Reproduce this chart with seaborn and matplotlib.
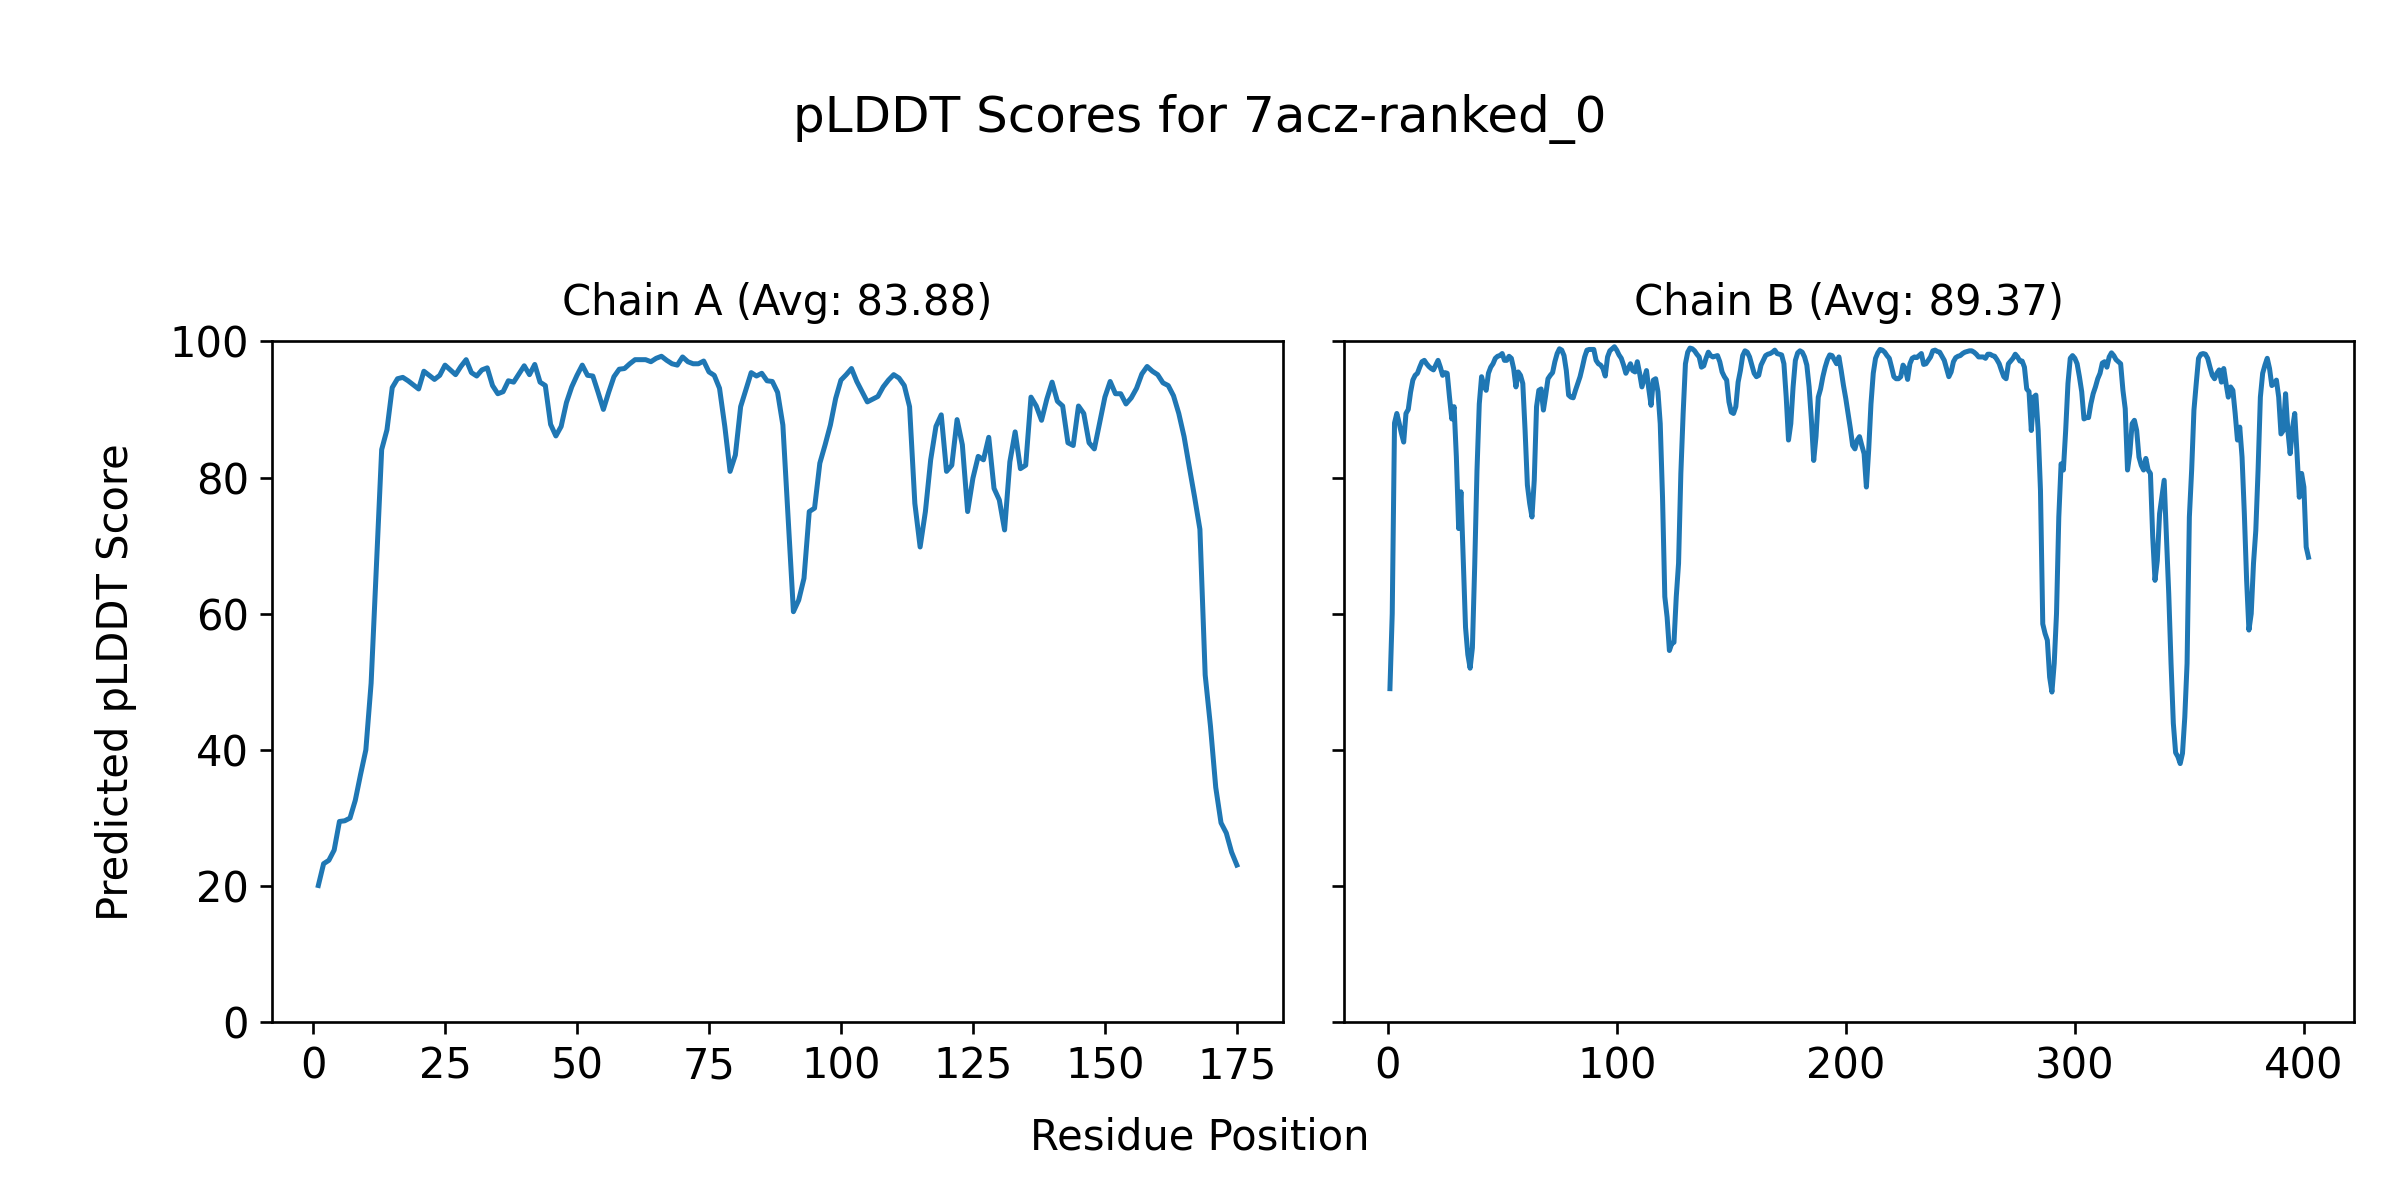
import numpy as np
import pandas as pd
import seaborn as sns
import matplotlib.pyplot as plt

# ---------------- data ----------------
chain_a_scores = [
    20.1, 23.3, 23.8, 25.3, 29.5, 29.6, 30.0, 32.6, 36.4, 40.0,
    49.8, 67.0, 84.1, 87.0, 93.2, 94.5, 94.7, 94.2, 93.6, 93.0,
    95.6, 95.0, 94.4, 95.0, 96.5, 95.8, 95.1, 96.3, 97.3, 95.4,
    94.9, 95.8, 96.1, 93.5, 92.3, 92.6, 94.2, 94.0, 95.2, 96.4,
    95.1, 96.6, 94.0, 93.5, 87.8, 86.1, 87.5, 91.0, 93.3, 95.0,
    96.5, 95.0, 94.9, 92.5, 90.0, 92.5, 94.8, 95.9, 96.0, 96.7,
    97.3, 97.3, 97.3, 97.0, 97.5, 97.8, 97.2, 96.7, 96.5, 97.7,
    97.0, 96.7, 96.7, 97.1, 95.5, 95.0, 93.1, 87.5, 80.9, 83.3,
    90.4, 92.9, 95.4, 94.9, 95.3, 94.2, 94.1, 92.5, 87.7, 74.0,
    60.3, 62.0, 65.2, 75.0, 75.5, 82.1, 84.8, 87.7, 91.6, 94.3,
    95.1, 96.0, 94.1, 92.6, 91.1, 91.5, 91.9, 93.3, 94.3, 95.1,
    94.6, 93.5, 90.4, 76.2, 69.8, 75.0, 82.6, 87.5, 89.2, 80.9,
    81.8, 88.5, 84.8, 75.0, 79.9, 83.1, 82.6, 85.9, 78.4, 76.7,
    72.3, 82.3, 86.7, 81.3, 81.8, 91.8, 90.5, 88.4, 91.5, 94.0,
    91.2, 90.5, 85.1, 84.7, 90.5, 89.4, 85.1, 84.2, 88.0, 91.8,
    94.1, 92.3, 92.3, 90.8, 91.7, 93.1, 95.2, 96.3, 95.6, 95.1,
    93.9, 93.5, 92.0, 89.4, 86.0, 81.5, 77.1, 72.4, 51.0, 43.5,
    34.5, 29.3, 27.8, 25.0, 23.1,
]

chain_b_scores = [
    49.0, 60.0, 88.0, 89.4, 88.0, 86.5, 85.2, 89.4, 90.0, 92.5,
    94.3, 95.0, 95.3, 96.2, 97.0, 97.2, 96.7, 96.3, 96.0, 95.8,
    96.5, 97.2, 96.2, 95.0, 95.4, 95.3, 91.8, 88.6, 90.4, 83.0,
    72.5, 77.9, 68.0, 58.0, 54.0, 52.0, 55.0, 67.0, 81.0, 90.8,
    94.8, 93.5, 92.8, 95.3, 96.2, 96.7, 97.5, 97.8, 97.9, 98.2,
    97.2, 97.2, 97.8, 97.5, 96.0, 93.3, 95.5, 95.0, 93.8, 86.9,
    78.9, 76.2, 74.2, 79.6, 90.4, 92.8, 93.0, 89.9, 92.1, 94.5,
    95.0, 95.4, 97.0, 98.2, 98.9, 98.7, 97.9, 95.7, 92.1, 91.8,
    91.7, 92.8, 93.8, 94.8, 96.2, 97.7, 98.7, 98.8, 98.8, 98.8,
    97.2, 96.7, 96.5, 96.0, 94.9, 97.7, 98.6, 98.9, 99.2, 98.7,
    98.0, 97.5, 96.5, 95.3, 96.0, 96.7, 95.7, 95.5, 97.0, 95.3,
    93.3, 94.5, 95.7, 93.0, 90.6, 94.3, 94.5, 92.6, 87.9, 77.1,
    62.5, 59.5, 54.6, 55.6, 55.8, 62.5, 67.4, 80.6, 89.4, 96.7,
    98.4, 99.0, 98.9, 98.6, 98.1, 97.7, 96.2, 96.4, 97.5, 98.4,
    97.9, 97.7, 97.8, 97.9, 97.0, 95.5, 94.8, 94.3, 91.1, 89.6,
    89.4, 90.4, 94.0, 95.7, 97.9, 98.6, 98.4, 97.7, 96.5, 95.3,
    94.8, 95.0, 96.5, 97.2, 97.9, 98.1, 98.2, 98.4, 98.7, 98.2,
    98.1, 98.0, 96.7, 91.8, 85.5, 87.9, 93.3, 97.2, 98.3, 98.6,
    98.4, 97.7, 96.5, 93.3, 88.4, 82.5, 86.0, 91.8, 93.0, 94.8,
    96.2, 97.3, 98.0, 97.9, 97.3, 96.7, 97.7, 95.7, 93.5, 91.6,
    89.4, 87.2, 84.7, 84.2, 85.5, 86.0, 84.7, 83.5, 78.6, 84.0,
    90.8, 95.3, 97.5, 98.3, 98.8, 98.7, 98.4, 97.9, 97.5, 96.2,
    94.8, 94.5, 94.5, 94.8, 96.5, 96.0, 94.4, 96.7, 97.5, 97.7,
    97.6, 97.9, 98.2, 96.6, 96.7, 97.2, 97.7, 98.6, 98.7, 98.5,
    98.4, 97.8, 97.2, 96.0, 94.8, 95.5, 97.0, 97.6, 97.8, 97.9,
    98.2, 98.4, 98.5, 98.6, 98.6, 98.4, 98.1, 97.7, 97.7, 97.7,
    97.5, 98.1, 98.1, 97.9, 97.8, 97.3, 96.7, 95.7, 94.8, 94.5,
    96.7, 97.1, 97.5, 98.1, 97.7, 97.1, 97.1, 96.2, 93.0, 92.6,
    86.9, 91.8, 92.1, 86.9, 78.1, 58.5, 57.1, 56.1, 50.7, 48.5,
    52.7, 60.0, 74.2, 82.0, 81.1, 86.9, 93.8, 97.5, 97.9, 97.5,
    96.7, 94.8, 92.6, 88.6, 88.8, 88.8, 90.8, 92.3, 93.3, 94.5,
    95.3, 96.8, 97.0, 96.2, 97.7, 98.3, 97.9, 97.3, 97.0, 96.7,
    92.8, 90.1, 81.1, 83.5, 87.9, 88.4, 86.9, 83.0, 81.8, 81.1,
    82.8, 81.1, 80.6, 71.3, 64.9, 67.8, 74.7, 77.1, 79.6, 71.3,
    62.9, 52.7, 43.9, 39.6, 39.0, 38.0, 39.5, 44.8, 52.7, 74.2,
    81.1, 89.9, 93.8, 97.5, 98.1, 98.2, 98.1, 97.5, 96.2, 95.0,
    94.5, 95.3, 95.8, 94.0, 96.0, 93.8, 91.8, 93.3, 92.8, 89.4,
    85.5, 87.4, 83.0, 74.7, 64.9, 57.6, 60.0, 67.4, 72.2, 81.1,
    91.8, 95.3, 96.5, 97.5, 96.0, 93.5, 93.8, 94.3, 91.8, 86.4,
    86.9, 92.3, 86.9, 83.5, 87.2, 89.4, 83.5, 77.1, 80.6, 78.6,
    69.8, 68.3,
]

chain_titles = ["Chain A (Avg: 83.88)", "Chain B (Avg: 89.37)"]
suptitle_text = "pLDDT Scores for 7acz-ranked_0"
x_label_text = "Residue Position"
y_label_text = "Predicted pLDDT Score"
y_ticks = [0, 20, 40, 60, 80, 100]
x_ticks_a = [0, 25, 50, 75, 100, 125, 150, 175]
x_ticks_b = [0, 100, 200, 300, 400]

# ---------------- plot ----------------
df_a = pd.DataFrame({"Residue": np.arange(1, len(chain_a_scores) + 1),
                     "pLDDT": chain_a_scores})
df_b = pd.DataFrame({"Residue": np.arange(1, len(chain_b_scores) + 1),
                     "pLDDT": chain_b_scores})

fig, axes = plt.subplots(1, 2, figsize=(10, 5), dpi=240, sharey=True)
fig.subplots_adjust(left=0.1135, right=0.981, bottom=0.148, top=0.7156,
                    wspace=0.0606)

line_color = "#1f77b4"
for ax, df, title, xt in zip(axes, [df_a, df_b], chain_titles,
                             [x_ticks_a, x_ticks_b]):
    sns.lineplot(data=df, x="Residue", y="pLDDT", ax=ax, color=line_color,
                 linewidth=1.5)
    ax.set_title(title, fontsize=12.5, pad=7.8)
    ax.set_xlabel("")
    ax.set_ylabel("")
    ax.set_xticks(xt)
    ax.tick_params(labelsize=12.5)

axes[0].set_ylim(0, 100)
axes[0].set_yticks(y_ticks)
axes[0].set_ylabel(y_label_text, fontsize=12.5)
axes[0].yaxis.set_label_coords(-0.1345, 0.5)

fig.suptitle(suptitle_text, fontsize=15, y=0.9005, va="center")
fig.text(0.5, 0.052, x_label_text, ha="center", va="center", fontsize=12.5)

fig.savefig("out.png", dpi=240)
